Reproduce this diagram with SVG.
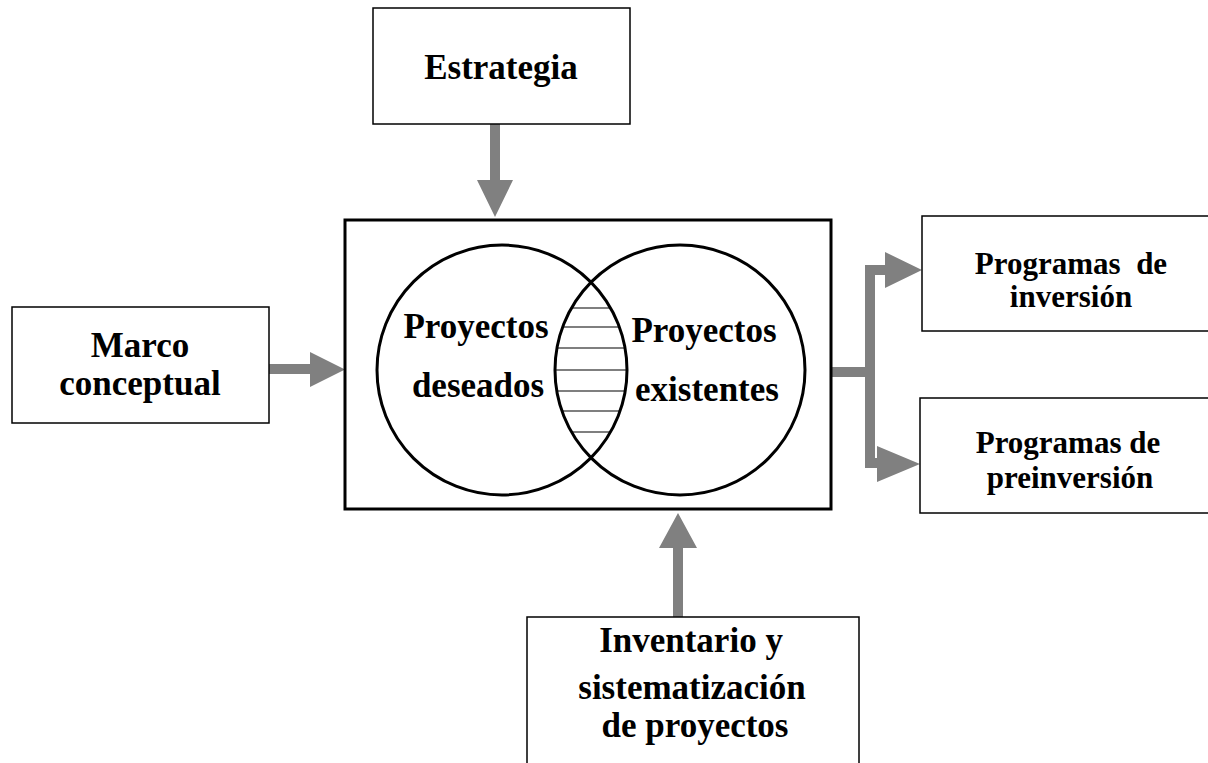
<svg xmlns="http://www.w3.org/2000/svg" width="1208" height="763" viewBox="0 0 1208 763">
<style>
.box{fill:#fff;stroke:#000;stroke-width:1.5}
.t{font-family:"Liberation Serif","Times New Roman",serif;font-weight:bold;font-size:35px;fill:#000;text-anchor:middle}
.s{font-size:31px}
.arr{fill:#808080;stroke:none}
.hatch{stroke:#000;stroke-width:1.2}
</style>
<rect width="1208" height="763" fill="#fff"/>
<g id="connectors">
  <polygon class="arr" points="490,124 500,124 500,180 513,180 495,217 477,180 490,180"/>
  <polygon class="arr" points="269,364 310,364 310,352 345,369.5 310,387 310,374 269,374"/>
  <polygon class="arr" points="673,617 673,548 659,548 678,513 697,548 683,548 683,617"/>
  <polygon class="arr" points="831,367 865,367 865,265 885,265 885,252 922,270 885,288 885,275 875,275 875,458 877,458 877,446 920,464 877,482 877,468 865,468 865,377 831,377"/>
</g>
<g id="estrategia">
  <rect class="box" x="373" y="8" width="257" height="116"/>
  <text class="t" x="501" y="79">Estrategia</text>
</g>
<g id="marco">
  <rect class="box" x="12" y="307" width="257" height="116"/>
  <text class="t" x="140" y="357">Marco</text>
  <text class="t" x="140" y="395">conceptual</text>
</g>
<g id="central">
  <rect x="345" y="220" width="486" height="289" fill="none" stroke="#000" stroke-width="3"/>
  <g class="hatch">
    <line x1="571.5" y1="308" x2="610.5" y2="308"/>
    <line x1="562.6" y1="327" x2="619.4" y2="327"/>
    <line x1="557" y1="348" x2="625" y2="348"/>
    <line x1="555" y1="370" x2="627" y2="370"/>
    <line x1="556.8" y1="391" x2="625.2" y2="391"/>
    <line x1="561.9" y1="411" x2="620.1" y2="411"/>
    <line x1="571.5" y1="432" x2="610.5" y2="432"/>
  </g>
  <circle cx="502" cy="370" r="125" fill="none" stroke="#000" stroke-width="3"/>
  <circle cx="680" cy="370" r="125" fill="none" stroke="#000" stroke-width="3"/>
  <text class="t" x="476" y="338">Proyectos</text>
  <text class="t" x="478" y="397">deseados</text>
  <text class="t" x="704" y="342">Proyectos</text>
  <text class="t" x="707" y="401">existentes</text>
</g>
<g id="inversion">
  <rect class="box" x="922" y="216" width="300" height="115"/>
  <text class="t s" x="1071" y="274" xml:space="preserve">Programas  de</text>
  <text class="t s" x="1071" y="307">inversión</text>
</g>
<g id="preinversion">
  <rect class="box" x="920" y="398" width="300" height="115"/>
  <text class="t s" x="1068" y="453">Programas de</text>
  <text class="t s" x="1070" y="488">preinversión</text>
</g>
<g id="inventario">
  <rect class="box" x="527" y="617" width="332" height="160"/>
  <text class="t" x="691" y="652">Inventario y</text>
  <text class="t" x="692" y="699">sistematización</text>
  <text class="t" x="695" y="737">de proyectos</text>
</g>
</svg>
